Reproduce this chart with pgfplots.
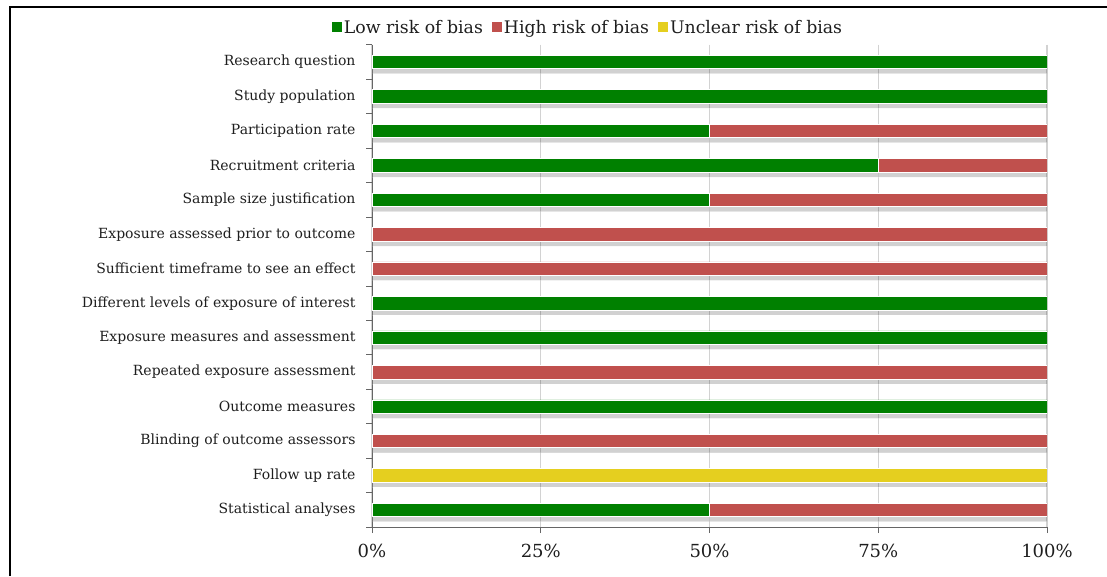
\documentclass[border=0pt]{standalone}
\usepackage{pgfplots}
\pgfplotsset{compat=1.18}
\usetikzlibrary{shadows}
\usepackage{fontspec}
\setmainfont{DejaVu Serif}
\definecolor{lowc}{RGB}{0,128,0}
\definecolor{highc}{RGB}{192,80,77}
\definecolor{uncc}{RGB}{229,207,31}
\definecolor{txt}{RGB}{30,30,30}
\begin{document}
\begin{tikzpicture}
\path[use as bounding box] (0,0) rectangle (1107pt,576pt);
\draw[line width=2.5pt,black] (10pt,0pt) -- (10pt,569pt) -- (1107pt,569pt);
\begin{axis}[
  at={(372pt,48.8pt)}, anchor=south west,
  scale only axis, width=675pt, height=482.5pt,
  xbar stacked, bar width=13.5pt,
  xmin=0, xmax=100, ymin=-0.5, ymax=13.5, y dir=reverse,
  axis lines*=left,
  axis line style={gray!80!black, line width=0.8pt},
  xtick={0,25,50,75,100},
  xticklabels={0\%,25\%,50\%,75\%,100\%},
  xmajorgrids, major grid style={gray!35, line width=1.2pt},
  ytick={0,...,13},
  yticklabels={Research question,Study population,Participation rate,Recruitment criteria,Sample size justification,Exposure assessed prior to outcome,Sufficient timeframe to see an effect,Different levels of exposure of interest,Exposure measures and assessment,Repeated exposure assessment,Outcome measures,Blinding of outcome assessors,Follow up rate,Statistical analyses},
  minor ytick={-0.5,0.5,...,13.5},
  tick align=outside,
  major tick length=6pt, minor tick length=6pt,
  every major y tick/.append style={draw=none},
  every minor y tick/.append style={draw=gray!80!black, line width=0.8pt},
  every major x tick/.append style={draw=gray!80!black, line width=0.8pt},
  yticklabel style={font=\fontsize{14}{16}\selectfont, text=txt, xshift=-7pt},
  xticklabel style={font=\fontsize{18}{20}\selectfont, text=txt, yshift=-7pt},
  /pgf/number format/assume math mode=true,
  legend style={at={(0.32,1.035)}, anchor=center, draw=none, legend columns=-1,
    font=\fontsize{17.3}{19}\selectfont, text=txt, fill=none,
    /tikz/every even column/.append style={column sep=7pt}},
  legend image code/.code={\fill[#1,draw=none] (0pt,-4.5pt) rectangle (10pt,5.5pt);},
  shd/.style={drop shadow={shadow xshift=0pt, shadow yshift=-5pt, opacity=0.18, fill=black}},
]
\addlegendimage{fill=lowc}
\addlegendimage{fill=highc}
\addlegendimage{fill=uncc}
\addplot[forget plot, shd, fill=lowc, draw=white, line width=0.6pt] coordinates {
(100,0) (100,1) (50,2) (75,3) (50,4) (0,5) (0,6) (100,7) (100,8) (0,9) (100,10) (0,11) (0,12) (50,13)};
\addplot[forget plot, shd, fill=highc, draw=white, line width=0.6pt] coordinates {
(0,0) (0,1) (50,2) (25,3) (50,4) (100,5) (100,6) (0,7) (0,8) (100,9) (0,10) (100,11) (0,12) (50,13)};
\addplot[forget plot, shd, fill=uncc, draw=white, line width=0.6pt] coordinates {
(0,0) (0,1) (0,2) (0,3) (0,4) (0,5) (0,6) (0,7) (0,8) (0,9) (0,10) (0,11) (100,12) (0,13)};
\legend{Low risk of bias,High risk of bias,Unclear risk of bias}
\end{axis}
\end{tikzpicture}
\end{document}
